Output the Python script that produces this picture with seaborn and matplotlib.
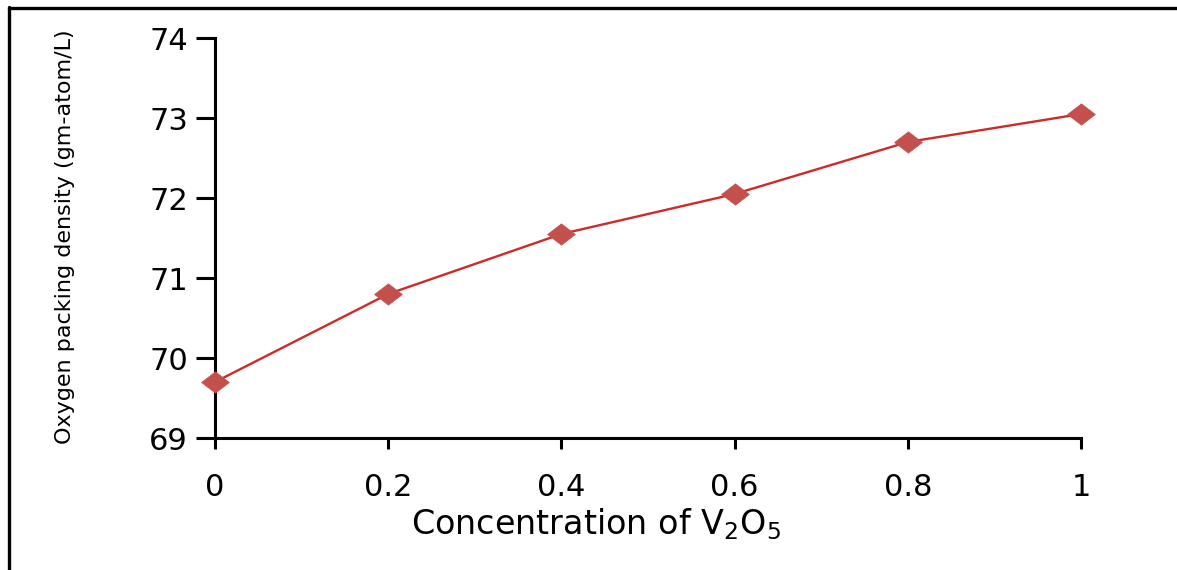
import matplotlib
matplotlib.use("Agg")
import matplotlib.pyplot as plt
from matplotlib.lines import Line2D
from matplotlib import font_manager
import seaborn as sns
import pandas as pd

# V2O5 concentration and oxygen packing density
concentration = [0, 0.2, 0.4, 0.6, 0.8, 1.0]
packing_density = [69.7, 70.8, 71.55, 72.05, 72.7, 73.05]
x_ticks = [0, 0.2, 0.4, 0.6, 0.8, 1]
x_tick_labels = ["0", "0.2", "0.4", "0.6", "0.8", "1"]
y_ticks = [69, 70, 71, 72, 73, 74]

sns.set_theme(style="white")
plt.rcParams["font.family"] = ["DejaVu Sans"]

# pick a narrow face for the vertical axis title when one is installed
installed = {f.name for f in font_manager.fontManager.ttflist}
narrow = [n for n in ["Liberation Sans Narrow", "DejaVu Sans Condensed"] if n in installed]
ylabel_family = narrow[:1] + ["DejaVu Sans"]

df = pd.DataFrame({"conc": concentration, "opd": packing_density})

fig = plt.figure(figsize=(11.77, 5.70), dpi=100)
ax = fig.add_axes([215 / 1177, 1 - 438 / 570, 866 / 1177, 400 / 570])

# slightly wide diamond marker
diamond = [(-1.3, 0), (0, 1), (1.3, 0), (0, -1), (-1.3, 0)]

sns.lineplot(data=df, x="conc", y="opd", ax=ax, color="#CF2A2A", linewidth=1.7,
             marker=diamond, markersize=20, markerfacecolor="#C4504E",
             markeredgecolor="#C4504E", markeredgewidth=0.5, clip_on=False, zorder=5)

ax.set_xlim(0, 1)
ax.set_ylim(69, 74)
ax.set_xticks(x_ticks)
ax.set_xticklabels(x_tick_labels)
ax.set_yticks(y_ticks)

for side in ["top", "right"]:
    ax.spines[side].set_visible(False)
for side in ["left", "bottom"]:
    ax.spines[side].set_color("black")
    ax.spines[side].set_linewidth(2.2)

ax.tick_params(axis="x", direction="out", length=8, width=2.2, color="black",
               pad=17, labelsize=22, labelcolor="black", bottom=True)
ax.tick_params(axis="y", direction="out", length=13.5, width=2.2, color="black",
               pad=6, labelsize=22, labelcolor="black", left=True)

ax.set_xlabel(r"Concentration of V$_\mathregular{2}$O$_\mathregular{5}$",
              fontsize=24, color="black")
ax.xaxis.set_label_coords((596 - 215) / 866, (438 - 506) / 400)

ylabel_size = 19 if narrow else 16
ax.set_ylabel("Oxygen packing density (gm-atom/L)", fontsize=ylabel_size,
              color="black", family=ylabel_family)
ax.yaxis.set_label_coords((75 - 215) / 866, (438 - 237) / 400)

# frame lines along the top and left of the figure
fig.add_artist(Line2D([8.5 / 1177, 1], [1 - 7.5 / 570, 1 - 7.5 / 570],
                      color="black", linewidth=2.4, transform=fig.transFigure))
fig.add_artist(Line2D([8.5 / 1177, 8.5 / 1177], [0, 1 - 6.5 / 570],
                      color="black", linewidth=2.4, transform=fig.transFigure))

fig.savefig("out.png", dpi=100, facecolor="white")
